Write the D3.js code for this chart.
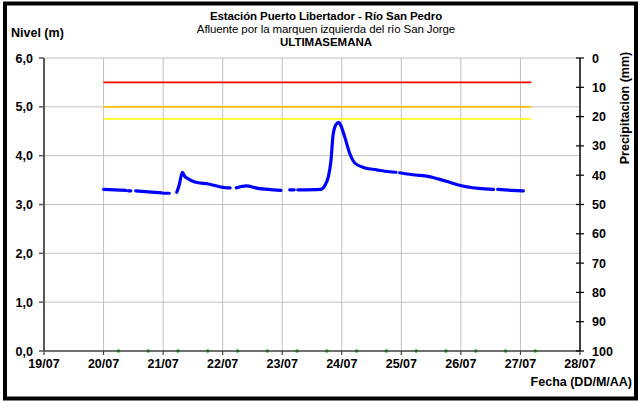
<!DOCTYPE html>
<html><head><meta charset="utf-8">
<script src="https://cdn.jsdelivr.net/npm/d3@7"></script>
<style>
html,body{margin:0;padding:0;background:#fff;}
svg{display:block;font-family:"Liberation Sans",Arial,sans-serif;}
</style></head>
<body>
<svg id="c" width="640" height="401"></svg>
<script>
// ---------- DATA ----------
const dayTicks = ["19/07","20/07","21/07","22/07","23/07","24/07","25/07","26/07","27/07","28/07"];
const levelTicks = [0,1,2,3,4,5,6];
const precipTicks = [0,10,20,30,40,50,60,70,80,90,100];

const levelTime = [
"20/07 00:00","20/07 04:30","20/07 09:00","20/07 09:30",
"20/07 10:00","20/07 11:00","20/07 12:00",
"20/07 13:00","20/07 18:00","20/07 23:30","20/07 23:45",
"21/07 00:15","21/07 02:30","21/07 04:00",
"21/07 05:30","21/07 06:30","21/07 07:45","21/07 08:40","21/07 10:00","21/07 12:45","21/07 18:15","22/07 02:10","22/07 03:00","22/07 04:00",
"22/07 05:30","22/07 09:30","22/07 14:10","22/07 18:15","22/07 23:30","23/07 01:00",
"23/07 03:00","23/07 04:50","23/07 05:30",
"23/07 06:15","23/07 15:30","23/07 16:20","23/07 17:30","23/07 18:30","23/07 19:10","23/07 19:40","23/07 20:25","23/07 21:35","23/07 22:50","23/07 23:30","24/07 01:10","24/07 03:10","24/07 05:15","24/07 08:40","24/07 14:00","24/07 19:10","24/07 21:50","24/07 22:40",
"24/07 23:20","25/07 04:30","25/07 11:15","25/07 15:10","25/07 19:10","25/07 23:00","26/07 07:10","26/07 13:10","26/07 14:00",
"26/07 14:50","26/07 20:40","27/07 01:10"
];
const levelValue = [
3.31,3.30,3.29,null,
3.28,3.28,null,
3.28,3.26,3.24,null,
3.23,3.23,null,
3.25,3.40,3.66,3.58,3.53,3.46,3.42,3.34,3.34,null,
3.34,3.38,3.33,3.31,3.29,null,
3.30,3.30,null,
3.30,3.31,3.33,3.42,3.55,3.72,3.91,4.39,4.63,4.68,4.63,4.39,4.05,3.85,3.76,3.71,3.67,3.66,null,
3.65,3.61,3.57,3.52,3.46,3.40,3.33,3.31,null,
3.31,3.29,3.28
];

const precipTime = ["20/07 06:00","20/07 18:00","21/07 06:00","21/07 18:00","22/07 06:00","22/07 18:00","23/07 06:00","23/07 18:00","24/07 06:00","24/07 18:00","25/07 06:00","25/07 18:00","26/07 06:00","26/07 18:00","27/07 06:00"];
const precipValue = [0,0,0,0,0,0,0,0,0,0,0,0,0,0,0];

const thresholdName = ["Roja","Naranja","Amarilla"];
const thresholdValue = [5.5, 5.0, 4.75];
const thresholdStart = "20/07 00:00";
const thresholdEnd = "27/07 04:20";

// ---------- LAYOUT / STYLE ----------
const L = 44, R = 580, T = 58, B = 351;
const thresholdColor = ["#ff0000","#ffc000","#ffff00"];
const parse = d3.timeParse("%d/%m %H:%M");
const parseDay = d3.timeParse("%d/%m");

const svg = d3.select("#c");
svg.append("rect").attr("x",5).attr("y",3.5).attr("width",631).attr("height",395)
  .attr("fill","#fff").attr("stroke","#000").attr("stroke-width",4);

const x = d3.scaleTime().domain([parseDay(dayTicks[0]), parseDay(dayTicks[dayTicks.length-1])]).range([L,R]);
const y = d3.scaleLinear().domain([0,6]).range([B,T]);
const y2 = d3.scaleLinear().domain([0,100]).range([T,B]);

// gridlines
const g = svg.append("g");
g.selectAll(".hg").data(levelTicks.filter(d=>d>0)).join("line")
  .attr("x1",L).attr("x2",R).attr("y1",d=>y(d)).attr("y2",d=>y(d))
  .attr("stroke","#c0c0c0").attr("stroke-width",1);
g.selectAll(".vg").data(dayTicks.slice(1,-1)).join("line")
  .attr("x1",d=>x(parseDay(d))).attr("x2",d=>x(parseDay(d))).attr("y1",T).attr("y2",B)
  .attr("stroke","#c0c0c0").attr("stroke-width",1);

// thresholds
svg.append("g").selectAll("line").data(thresholdValue).join("line")
  .attr("x1",x(parse(thresholdStart))).attr("x2",x(parse(thresholdEnd)))
  .attr("y1",d=>y(d)).attr("y2",d=>y(d))
  .attr("stroke",(d,i)=>thresholdColor[i]).attr("stroke-width",1.6);

// level line
const pts = levelTime.map((t,i)=>({t:parse(t), v:levelValue[i]}));
const line = d3.line().defined(d=>d.v!==null).x(d=>x(d.t)).y(d=>y(d.v)).curve(d3.curveMonotoneX);
svg.append("path").datum(pts).attr("d",line).attr("fill","none")
  .attr("stroke","#0000ff").attr("stroke-width",3.2).attr("stroke-linecap","round").attr("stroke-linejoin","round");

// precipitation markers
svg.append("g").selectAll("circle").data(precipTime).join("circle")
  .attr("cx",d=>x(parse(d))).attr("cy",(d,i)=>y(precipValue[i]))
  .attr("r",1.8).attr("fill","#00c000");

// axes
const ax = svg.append("g").attr("font-weight","bold").attr("font-size",12.5).attr("fill","#000");
// left axis
ax.append("line").attr("x1",L).attr("x2",L).attr("y1",T).attr("y2",B).attr("stroke","#595959").attr("stroke-width",2);
ax.selectAll(".lt").data(levelTicks).join("line").attr("x1",L-5).attr("x2",L).attr("y1",d=>y(d)).attr("y2",d=>y(d)).attr("stroke","#595959").attr("stroke-width",1.5);
ax.selectAll(".ll").data(levelTicks).join("text").attr("x",33).attr("y",d=>y(d)+4.5).attr("text-anchor","end")
  .text(d=>d3.format(".1f")(d).replace(".",","));
// bottom axis
ax.append("line").attr("x1",L).attr("x2",R).attr("y1",B).attr("y2",B).attr("stroke","#404040").attr("stroke-width",1.5);
ax.selectAll(".bt").data(dayTicks).join("line").attr("x1",d=>x(parseDay(d))).attr("x2",d=>x(parseDay(d))).attr("y1",B).attr("y2",B+4).attr("stroke","#404040").attr("stroke-width",1.2);
ax.selectAll(".bl").data(dayTicks).join("text").attr("x",d=>x(parseDay(d))).attr("y",B+17).attr("text-anchor","middle").text(d=>d);
// right axis
ax.append("line").attr("x1",R).attr("x2",R).attr("y1",T).attr("y2",B).attr("stroke","#000").attr("stroke-width",1.5);
ax.selectAll(".rt").data(precipTicks).join("line").attr("x1",R-4).attr("x2",R+4).attr("y1",d=>y2(d)).attr("y2",d=>y2(d)).attr("stroke","#000").attr("stroke-width",1.2);
ax.selectAll(".rl").data(precipTicks).join("text").attr("x",592).attr("y",d=>y2(d)+4.5).attr("text-anchor","start").text(d=>d);

// titles
const tt = svg.append("g").attr("font-size",11.5).attr("fill","#000");
tt.append("text").attr("x",326).attr("y",20).attr("text-anchor","middle").attr("font-weight","bold").attr("letter-spacing",-0.1).text("Estación Puerto Libertador - Río San Pedro");
tt.append("text").attr("x",326).attr("y",33).attr("text-anchor","middle").attr("letter-spacing",-0.1).text("Afluente por la marquen izquierda del río San Jorge");
tt.append("text").attr("x",326).attr("y",46).attr("text-anchor","middle").attr("font-weight","bold").attr("word-spacing",-3).text("ULTIMA SEMANA");
tt.append("text").attr("x",11).attr("y",37).attr("font-size",12.5).attr("font-weight","bold").text("Nivel (m)");
tt.append("text").attr("transform","translate(629,108) rotate(-90)").attr("font-size",12.5).attr("text-anchor","middle").attr("font-weight","bold").text("Precipitacion (mm)");
tt.append("text").attr("x",632).attr("y",386).attr("font-size",12.5).attr("text-anchor","end").attr("font-weight","bold").text("Fecha (DD/M/AA)");
</script>
</body></html>
